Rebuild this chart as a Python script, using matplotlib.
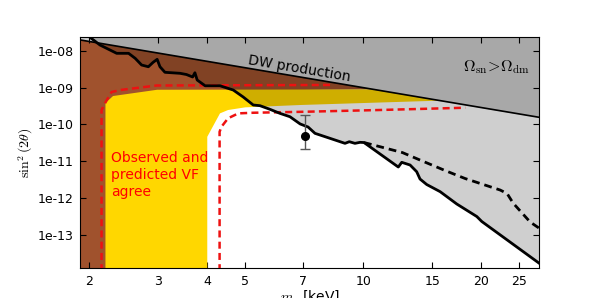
import numpy as np
import matplotlib
matplotlib.use("Agg")
import matplotlib.pyplot as plt
from matplotlib.ticker import FixedLocator, FuncFormatter, NullLocator

plt.rcParams["mathtext.fontset"] = "cm"

# ── data (m_s in keV, sin^2(2theta)) ──────────────────────────────────────
dw_mass = [1.9, 28.1]
dw_sin  = [2.0e-8, 1.56e-10]

xray_mass = [1.90, 2.13, 2.35, 2.52, 2.62, 2.72, 2.83, 2.91, 2.98, 3.03, 3.12,
             3.41, 3.54, 3.67, 3.72, 3.77, 3.95, 4.31, 4.66, 4.94, 5.24, 5.45,
             5.78, 6.13, 6.50, 6.90, 7.23, 7.53, 8.37, 8.98, 9.21, 9.52, 9.81,
             10.04, 12.28, 12.53, 13.16, 13.68, 13.95, 14.51, 15.70, 17.31,
             19.47, 20.05, 28.1]
xray_sin  = [3.73e-8, 1.46e-8, 8.66e-9, 8.66e-9, 6.32e-9, 4.16e-9, 3.73e-9,
             4.92e-9, 5.94e-9, 3.73e-9, 2.63e-9, 2.47e-9, 2.29e-9, 1.96e-9,
             2.56e-9, 1.62e-9, 1.13e-9, 1.13e-9, 8.65e-10, 5.58e-10, 3.38e-10,
             3.24e-10, 2.58e-10, 2.00e-10, 1.62e-10, 1.03e-10, 8.49e-11,
             5.71e-11, 3.92e-11, 3.05e-11, 3.38e-11, 3.05e-11, 3.25e-11,
             3.21e-11, 6.90e-12, 9.27e-12, 7.83e-12, 5.14e-12, 3.25e-12,
             2.30e-12, 1.47e-12, 6.78e-13, 3.09e-13, 2.26e-13, 1.64e-14]

dashed_mass = [10.04, 12.58, 13.95, 16.16, 18.17, 22.33, 23.26, 24.09, 26.63, 28.1]
dashed_sin  = [3.21e-11, 1.71e-11, 1.07e-11, 5.54e-12, 3.36e-12, 1.63e-12,
               1.31e-12, 7.21e-13, 2.19e-13, 1.48e-13]

brown_mass = [1.9, 3.0, 3.0, 10.6, 1.9]
brown_sin  = [1e-14, 1e-14, 8.0e-10, 9.0e-10, 2.0e-8]

yellow_mass = [2.20, 2.20, 2.30, 2.98, 10.6, 15.7, 6.90, 5.0, 4.52, 4.31, 4.0, 4.0]
yellow_sin  = [1e-14, 3.83e-10, 5.94e-10, 8.8e-10, 9.0e-10, 4.45e-10, 3.38e-10,
               2.92e-10, 2.47e-10, 2.0e-10, 4.6e-11, 1e-14]

outer_mass = [2.15, 2.15, 2.21, 2.28, 2.40, 2.97, 8.37]
outer_sin  = [1e-14, 2.47e-10, 4.35e-10, 7.64e-10, 8.65e-10, 1.15e-9, 1.19e-9]

inner_mass = [4.30, 4.30, 4.35, 4.52, 4.80, 5.24, 7.17, 11.0, 18.2]
inner_sin  = [1e-14, 6.3e-11, 8.7e-11, 1.47e-10, 2.0e-10, 2.08e-10, 2.22e-10,
              2.47e-10, 2.85e-10]

line_mass = 7.1
line_sin  = 4.9e-11
line_lo   = 2.1e-11
line_hi   = 1.8e-10

xticks = [2, 3, 4, 5, 7, 10, 15, 20, 25]
yticks = [1e-8, 1e-9, 1e-10, 1e-11, 1e-12, 1e-13]

# ── figure ─────────────────────────────────────────────────────────────────
fig = plt.figure(figsize=(5.98, 2.98), dpi=100)
ax = fig.add_axes([0.1346, 0.0997, 0.7672, 0.7772])
ax.set_xscale("log")
ax.set_yscale("log")

ax.fill(brown_mass, brown_sin, color="#a0522d", lw=0, zorder=1)
ax.fill(yellow_mass, yellow_sin, color="#ffd700", lw=0, zorder=2)
ax.fill_between(xray_mass, xray_sin, 1e-6, color="k", alpha=0.19, lw=0, zorder=3)
ax.fill_between(dw_mass, dw_sin, 1e-6, color="k", alpha=0.19, lw=0, zorder=3)

ax.plot(dw_mass, dw_sin, color="k", lw=1.2, zorder=5)
ax.plot(xray_mass, xray_sin, color="k", lw=2, zorder=5)
ax.plot(dashed_mass, dashed_sin, color="k", lw=2, ls=(0, (2.8, 1.8)), zorder=5)
ax.plot(outer_mass, outer_sin, color="#ee1111", lw=1.8, ls=(0, (2.8, 1.7)), zorder=4)
ax.plot(inner_mass, inner_sin, color="#ee1111", lw=1.8, ls=(0, (2.8, 1.7)), zorder=4)

ax.errorbar([line_mass], [line_sin],
            yerr=[[line_sin - line_lo], [line_hi - line_sin]],
            fmt="o", color="k", ms=5.5, ecolor="#555555", elinewidth=1,
            capsize=3.5, capthick=1, zorder=6)

ax.text(6.88, 3.33e-9, "DW production", fontsize=10, rotation=-9.6,
        rotation_mode="anchor", ha="center", va="center", zorder=7)
ax.text(21.9, 3.73e-9, r"$\Omega_{\rm sn}\!>\!\Omega_{\rm dm}$", fontsize=11.5,
        ha="center", va="center", zorder=7)
ax.text(2.27, 4.2e-12, "Observed and\npredicted VF\nagree", fontsize=10,
        color="#ff0000", ha="left", va="center", linespacing=1.25, zorder=7)

ax.set_xlim(1.9, 28.1)
ax.set_ylim(1.2e-14, 2.46e-8)
ax.xaxis.set_major_locator(FixedLocator(xticks))
ax.xaxis.set_major_formatter(FuncFormatter(lambda v, _: f"{v:g}"))
ax.xaxis.set_minor_locator(NullLocator())
ax.yaxis.set_major_locator(FixedLocator(yticks))
ax.yaxis.set_major_formatter(FuncFormatter(lambda v, _: f"{v:.0e}"))
ax.yaxis.set_minor_locator(NullLocator())
ax.tick_params(direction="in", top=True, right=True, length=4, labelsize=9, pad=5)

ax.set_xlabel(r"$m_{s}$ [keV]", fontsize=10, labelpad=0)
ax.set_ylabel(r"$\sin^2(2\theta)$", fontsize=10, labelpad=2)

fig.savefig("out.png", dpi=100)
